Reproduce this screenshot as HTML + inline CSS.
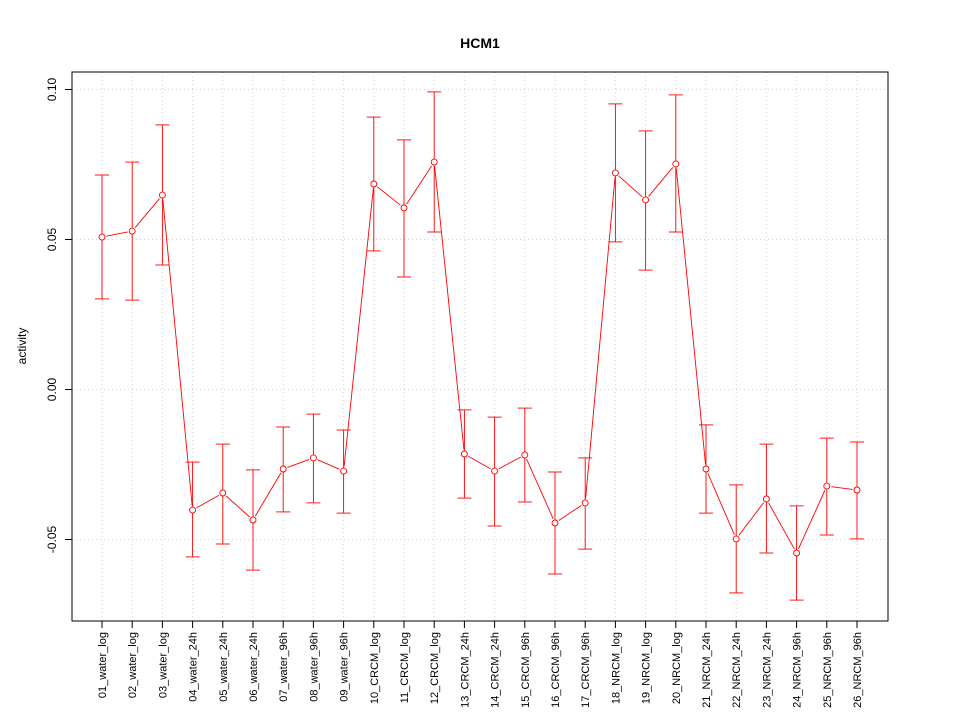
<!DOCTYPE html>
<html><head><meta charset="utf-8"><style>
html,body{margin:0;padding:0;background:#fff;}
svg{display:block;font-family:"Liberation Sans",sans-serif;}
</style></head><body>
<svg id="chart" width="960" height="720" xmlns="http://www.w3.org/2000/svg"></svg>
<script>
const categories=["01_water_log","02_water_log","03_water_log","04_water_24h","05_water_24h","06_water_24h","07_water_96h","08_water_96h","09_water_96h","10_CRCM_log","11_CRCM_log","12_CRCM_log","13_CRCM_24h","14_CRCM_24h","15_CRCM_96h","16_CRCM_96h","17_CRCM_96h","18_NRCM_log","19_NRCM_log","20_NRCM_log","21_NRCM_24h","22_NRCM_24h","23_NRCM_24h","24_NRCM_96h","25_NRCM_96h","26_NRCM_96h"];
const means=[0.0508,0.0528,0.0648,-0.0402,-0.0345,-0.0435,-0.0265,-0.0228,-0.0272,0.0685,0.0605,0.0758,-0.0215,-0.0272,-0.0218,-0.0445,-0.0378,0.0722,0.0632,0.0752,-0.0265,-0.0498,-0.0365,-0.0545,-0.0322,-0.0335];
const uppers=[0.0715,0.0758,0.0882,-0.0242,-0.0182,-0.0268,-0.0125,-0.0082,-0.0135,0.0908,0.0832,0.0992,-0.0068,-0.0092,-0.0062,-0.0275,-0.0228,0.0952,0.0862,0.0982,-0.0118,-0.0318,-0.0182,-0.0388,-0.0162,-0.0175];
const lowers=[0.0302,0.0298,0.0415,-0.0558,-0.0515,-0.0602,-0.0408,-0.0378,-0.0412,0.0462,0.0375,0.0525,-0.0362,-0.0455,-0.0375,-0.0615,-0.0532,0.0492,0.0398,0.0525,-0.0412,-0.0678,-0.0545,-0.0702,-0.0485,-0.0498];
const yTicks=[-0.05,0.00,0.05,0.10];
const yTickLabels=["-0.05","0.00","0.05","0.10"];

const NS="http://www.w3.org/2000/svg";
const svg=document.getElementById('chart');
const L=72,R=888,T=72,B=621;
function y(v){return 389.5-v*3000;}
function x(i){return 102+i*(857-102)/(categories.length-1);}
function mk(tag,attrs,parent){const e=document.createElementNS(NS,tag);for(const k in attrs)e.setAttribute(k,attrs[k]);(parent||svg).appendChild(e);return e;}

const grid=mk('g',{});


categories.forEach((c,i)=>{mk('line',{x1:x(i),x2:x(i),y1:T,y2:B,stroke:'#d3d3d3','stroke-dasharray':'1,3'},grid);});
yTicks.forEach(v=>{mk('line',{x1:L,x2:R,y1:y(v),y2:y(v),stroke:'#d3d3d3','stroke-dasharray':'1,3'},grid);});

const frame=mk('rect',{x:L,y:T,width:R-L,height:B-T,fill:'none',stroke:'#000'});



const yaxis=mk('g',{});


yTicks.forEach((v,i)=>{
  mk('line',{x1:L,x2:L-7,y1:y(v),y2:y(v),stroke:'#000'},yaxis);
  const t=mk('text',{x:56,y:y(v),'font-size':12,'text-anchor':'middle',transform:`rotate(-90 56 ${y(v)})`},yaxis);
  t.textContent=yTickLabels[i];
  
  
});
const yt=mk('text',{x:26,y:346,'font-size':12,'text-anchor':'middle',transform:'rotate(-90 26 346)'});
yt.textContent='activity';



const xaxis=mk('g',{});


mk('line',{x1:x(0),x2:x(categories.length-1),y1:B,y2:B,stroke:'#000'},xaxis);
categories.forEach((c,i)=>{
  mk('line',{x1:x(i),x2:x(i),y1:B,y2:B+7,stroke:'#000'},xaxis);
  const t=mk('text',{x:x(i)+4,y:632,'font-size':11,'text-anchor':'end',transform:`rotate(-90 ${x(i)+4} 632)`},xaxis);
  t.textContent=c;
  
  
});

const title=mk('text',{x:480,y:48,'font-size':14,'font-weight':'bold','text-anchor':'middle'});
title.textContent='HCM1';



const ser=mk('g',{});


const gap=4.5;
for(let i=0;i<means.length-1;i++){
  const x1=x(i),y1=y(means[i]),x2=x(i+1),y2=y(means[i+1]);
  const dx=x2-x1,dy=y2-y1,d=Math.hypot(dx,dy);
  if(d<=2*gap)continue;
  const ux=dx/d,uy=dy/d;
  const s=mk('line',{x1:x1+ux*gap,y1:y1+uy*gap,x2:x2-ux*gap,y2:y2-uy*gap,stroke:'#f00','stroke-width':0.9},ser);
  
  
}
means.forEach((v,i)=>{
  const g=mk('g',{},ser);
  
  
  mk('line',{x1:x(i),x2:x(i),y1:y(uppers[i]),y2:y(lowers[i]),stroke:'#f00','stroke-width':0.9},g);
  mk('line',{x1:x(i)-7,x2:x(i)+7,y1:y(uppers[i]),y2:y(uppers[i]),stroke:'#f00','stroke-width':0.9},g);
  mk('line',{x1:x(i)-7,x2:x(i)+7,y1:y(lowers[i]),y2:y(lowers[i]),stroke:'#f00','stroke-width':0.9},g);
  const p=mk('circle',{cx:x(i),cy:y(v),r:3,fill:'#fff',stroke:'#f00','stroke-width':0.9},ser);
  
  
});
</script>
</body></html>
